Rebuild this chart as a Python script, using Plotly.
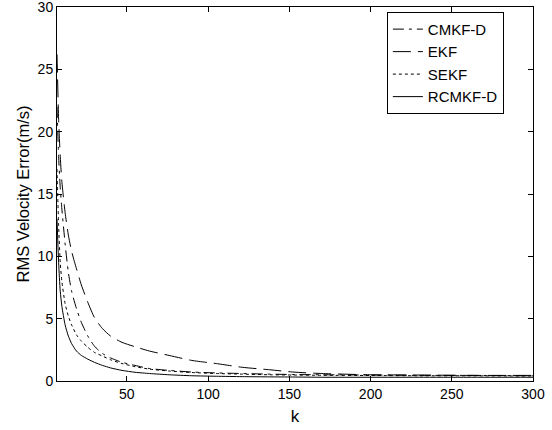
import plotly.graph_objects as go

k = [7, 8, 9, 10, 12, 14, 16, 19, 22, 26, 30, 35, 40, 47, 55, 64, 76, 90,
     105, 121, 138, 152, 170, 200, 230, 260, 300]

cmkf_d = [22, 18, 15.5, 13.8, 11, 8.7, 7.2, 5.8, 4.7, 3.6, 2.8, 2.2, 1.85, 1.5,
          1.25, 1.0, 0.85, 0.72, 0.65, 0.6, 0.55, 0.52, 0.5, 0.48, 0.45, 0.45, 0.42]
ekf = [26.2, 21, 18, 16, 13.5, 11.7, 10.4, 9.0, 7.7, 6.3, 5.1, 4.2, 3.6, 3.1,
       2.75, 2.4, 2.05, 1.65, 1.4, 1.1, 0.9, 0.72, 0.6, 0.5, 0.48, 0.45, 0.45]
sekf = [17, 12.5, 9.5, 8, 6.2, 5.2, 4.5, 3.7, 3.2, 2.7, 2.3, 2.0, 1.7, 1.4,
        1.15, 0.95, 0.8, 0.68, 0.6, 0.55, 0.5, 0.48, 0.46, 0.44, 0.42, 0.42, 0.4]
rcmkf_d = [13, 9.5, 7.2, 6.0, 4.5, 3.6, 3.0, 2.4, 2.05, 1.75, 1.5, 1.25, 1.05, 0.85,
           0.7, 0.6, 0.5, 0.42, 0.38, 0.35, 0.33, 0.32, 0.3, 0.3, 0.3, 0.3, 0.3]

x_ticks = [50, 100, 150, 200, 250, 300]
y_ticks = [0, 5, 10, 15, 20, 25, 30]

series = [
    ("CMKF-D", cmkf_d, "11px,5px,3px,5px"),
    ("EKF", ekf, "18px,7px"),
    ("SEKF", sekf, "3px,3px"),
    ("RCMKF-D", rcmkf_d, "solid"),
]

FONT = "Liberation Sans, Arial, sans-serif"

fig = go.Figure()
for name, vals, dash in series:
    fig.add_trace(go.Scatter(
        x=k, y=vals, name=name, mode="lines",
        line=dict(color="black", width=1, dash=dash, shape="spline", smoothing=0.6),
    ))

axis_common = dict(
    showgrid=False, zeroline=False, showline=True, linecolor="black", linewidth=1,
    mirror="ticks", ticks="inside", ticklen=5, tickcolor="black",
    tickfont=dict(family=FONT, size=14, color="black"),
    ticklabeloverflow="allow", automargin=False,
)

fig.update_layout(
    width=552, height=430,
    margin=dict(l=57, r=19, t=7, b=49),
    paper_bgcolor="white", plot_bgcolor="white",
    font=dict(family=FONT, size=14, color="black"),
    xaxis=dict(range=[7, 300], tickvals=x_ticks,
               title=dict(text="k", font=dict(size=17), standoff=9), **axis_common),
    yaxis=dict(range=[0, 30], tickvals=y_ticks,
               title=dict(text="RMS Velocity Error(m/s)", font=dict(size=16.5), standoff=3),
               **axis_common),
    legend=dict(x=0.693, y=0.987, xanchor="left", yanchor="top",
                bgcolor="white", bordercolor="black", borderwidth=1,
                font=dict(size=15), tracegroupgap=0, itemwidth=30),
    showlegend=True,
)

fig.write_html("out.html", config={"displayModeBar": False},
               post_script="document.body.style.margin='0';")
